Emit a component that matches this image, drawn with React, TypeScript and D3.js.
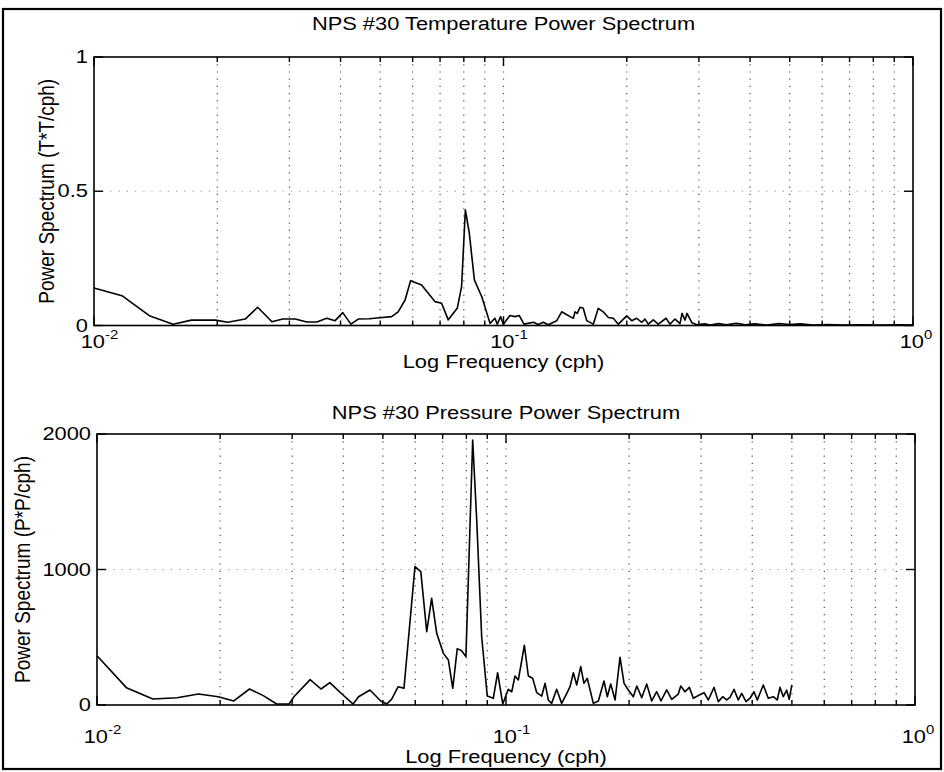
import React from 'react';
import * as d3 from 'd3';

// ---- Data ----
const tempFreq = [
  0.0100, 0.0117, 0.0137, 0.0156, 0.0173, 0.0198, 0.0212, 0.0234, 0.0251, 0.0272,
  0.0289, 0.0310, 0.0331, 0.0350, 0.0370, 0.0388, 0.0405, 0.0424, 0.0442, 0.0470,
  0.0499, 0.0533, 0.0553, 0.0575, 0.0593, 0.0631, 0.0655, 0.0680, 0.0706, 0.0733,
  0.0771, 0.0790, 0.0807, 0.0825, 0.0849, 0.0885, 0.0927, 0.0953, 0.0966, 0.0984,
  0.0999, 0.1037, 0.1067, 0.1093, 0.1122, 0.1183, 0.1216, 0.1251, 0.1286, 0.1349,
  0.1387, 0.1421, 0.1454, 0.1481, 0.1495, 0.1514, 0.1538, 0.1566, 0.1597, 0.1657,
  0.1704, 0.1752, 0.1803, 0.1854, 0.1907, 0.2000, 0.2056, 0.2115, 0.2175, 0.2216,
  0.2257, 0.2321, 0.2388, 0.2494, 0.2550, 0.2623, 0.2698, 0.2729, 0.2775, 0.2806,
  0.2886, 0.2968, 0.310, 0.320, 0.335, 0.350, 0.370, 0.390, 0.410, 0.440,
  0.470, 0.500, 0.530, 0.570, 0.620, 0.680, 0.750, 0.830, 0.920, 1.000,
];
const tempPower = [
  0.140, 0.111, 0.035, 0.005, 0.020, 0.020, 0.012, 0.024, 0.068, 0.014,
  0.024, 0.024, 0.013, 0.013, 0.027, 0.018, 0.048, 0.005, 0.024, 0.025,
  0.029, 0.033, 0.051, 0.095, 0.167, 0.151, 0.120, 0.089, 0.083, 0.021,
  0.064, 0.145, 0.431, 0.344, 0.170, 0.107, 0.008, 0.027, 0.005, 0.033,
  0.005, 0.037, 0.033, 0.037, 0.005, 0.012, 0.004, 0.012, 0.003, 0.018,
  0.051, 0.042, 0.033, 0.027, 0.051, 0.045, 0.068, 0.064, 0.018, 0.005,
  0.064, 0.051, 0.030, 0.027, 0.005, 0.036, 0.018, 0.027, 0.012, 0.024,
  0.005, 0.021, 0.005, 0.027, 0.005, 0.024, 0.007, 0.045, 0.020, 0.045,
  0.010, 0.003, 0.006, 0.002, 0.007, 0.003, 0.008, 0.003, 0.006, 0.002,
  0.007, 0.004, 0.006, 0.002, 0.004, 0.002, 0.003, 0.002, 0.003, 0.002,
];

const presFreq = [
  0.0100, 0.0118, 0.0137, 0.0157, 0.0177, 0.0198, 0.0216, 0.0236, 0.0255, 0.0275,
  0.0295, 0.0303, 0.0332, 0.0353, 0.0371, 0.0397, 0.0423, 0.0436, 0.0465, 0.0494,
  0.0511, 0.0525, 0.0545, 0.0563, 0.0599, 0.0619, 0.0640, 0.0658, 0.0677, 0.0703,
  0.0723, 0.0741, 0.0760, 0.0779, 0.0798, 0.0829, 0.0848, 0.0872, 0.0900, 0.0931,
  0.0954, 0.0982, 0.1013, 0.1033, 0.1052, 0.1072, 0.1109, 0.1134, 0.1162, 0.1189,
  0.1223, 0.1246, 0.1269, 0.1293, 0.1330, 0.1368, 0.1408, 0.1434, 0.1461, 0.1489,
  0.1523, 0.1551, 0.1580, 0.1635, 0.1682, 0.1736, 0.1769, 0.1803, 0.1848, 0.1900,
  0.1944, 0.1991, 0.2048, 0.2088, 0.2147, 0.2208, 0.2271, 0.2336, 0.2393, 0.2471,
  0.2542, 0.2638, 0.2674, 0.2740, 0.2807, 0.2871, 0.2970, 0.3049, 0.3124, 0.3226,
  0.3304, 0.3387, 0.3464, 0.3529, 0.3610, 0.3698, 0.3770, 0.3862, 0.3950, 0.4040,
  0.4116, 0.4257, 0.4378, 0.4503, 0.4605, 0.4676, 0.4764, 0.4856, 0.4925, 0.5000,
];
const presPower = [
  364, 128, 44, 54, 81, 61, 30, 118, 69, 7,
  7, 61, 187, 118, 165, 81, 7, 61, 111, 30,
  7, 42, 135, 123, 1021, 984, 541, 787, 529, 381,
  332, 123, 416, 401, 357, 1956, 1365, 504, 66, 49,
  238, 7, 116, 98, 214, 185, 441, 214, 197, 91,
  66, 160, 37, 12, 116, 12, 86, 135, 238, 148,
  283, 160, 197, 12, 30, 177, 61, 155, 37, 352,
  160, 111, 61, 140, 54, 155, 30, 98, 30, 111,
  42, 81, 140, 98, 130, 50, 74, 91, 37, 130,
  25, 61, 37, 57, 115, 37, 86, 25, 50, 98,
  37, 148, 50, 61, 37, 130, 61, 110, 42, 148,
];

const xTickExponents = [-2, -1, 0];
const tempYTicks = [0, 0.5, 1];
const tempYTickLabels = ['0', '0.5', '1'];
const presYTicks = [0, 1000, 2000];
const presYTickLabels = ['0', '1000', '2000'];

const FONT = '"Liberation Sans", Arial, Helvetica, sans-serif';
const FS = 19;
const STRETCH = 1.15;

function T(props: { x: number; y: number; anchor?: string; size?: number; children: React.ReactNode }) {
  const { x, y, anchor = 'start', size = FS, children } = props;
  return (
    <text transform={`translate(${x},${y}) scale(${STRETCH},1)`} fontFamily={FONT} fontSize={size}
      textAnchor={anchor as any} fill="#000">{children}</text>
  );
}

type PanelProps = {
  left: number; right: number; top: number; bottom: number;
  freq: number[]; power: number[];
  yMax: number; yTicks: number[]; yTickLabels: string[]; yGrid: number;
  title: string; titleY: number; ylabel: string; ylabelX: number;
  xTickLabelY: number; xlabelY: number;
};

function Panel(p: PanelProps) {
  const x = d3.scaleLog().domain([0.01, 1]).range([p.left, p.right]);
  const y = d3.scaleLinear().domain([0, p.yMax]).range([p.bottom, p.top]);
  const line = d3.line<number>()
    .x((_, i) => x(p.freq[i]))
    .y((d) => y(d));
  const minor: number[] = [];
  [0.01, 0.1].forEach((dec) => {
    for (let k = 2; k <= 9; k++) minor.push(dec * k);
  });
  const gridX = [...minor, 0.1];
  const cx = (p.left + p.right) / 2;
  const cy = (p.top + p.bottom) / 2;
  return (
    <g>
      {gridX.map((g, i) => (
        <line key={'gx' + i} x1={x(g)} x2={x(g)} y1={p.top} y2={p.bottom}
          stroke="#000" strokeWidth={1.2} strokeDasharray="1.2 6" opacity={0.7} />
      ))}
      <line x1={p.left} x2={p.right} y1={y(p.yGrid)} y2={y(p.yGrid)}
        stroke="#000" strokeWidth={1.2} strokeDasharray="1.2 7" opacity={0.4} />
      <path d={line(p.power) || ''} fill="none" stroke="#000" strokeWidth={1.6} strokeLinejoin="round" />
      <rect x={p.left} y={p.top} width={p.right - p.left} height={p.bottom - p.top}
        fill="none" stroke="#000" strokeWidth={1.6} />
      {minor.map((m, i) => (
        <g key={'mt' + i}>
          <line x1={x(m)} x2={x(m)} y1={p.bottom} y2={p.bottom - 5} stroke="#000" strokeWidth={1.4} />
          <line x1={x(m)} x2={x(m)} y1={p.top} y2={p.top + 5} stroke="#000" strokeWidth={1.4} />
        </g>
      ))}
      {xTickExponents.map((e) => {
        const xv = x(Math.pow(10, e));
        return (
          <g key={'xt' + e}>
            <line x1={xv} x2={xv} y1={p.bottom} y2={p.bottom - 9} stroke="#000" strokeWidth={1.4} />
            <line x1={xv} x2={xv} y1={p.top} y2={p.top + 9} stroke="#000" strokeWidth={1.4} />
            <T x={xv + 11} y={p.xTickLabelY} anchor="end">10</T>
            <T x={xv + 11} y={p.xTickLabelY - 9} size={13}>{String(e)}</T>
          </g>
        );
      })}
      {p.yTicks.map((t, i) => (
        <g key={'yt' + i}>
          <line x1={p.left} x2={p.left + 9} y1={y(t)} y2={y(t)} stroke="#000" strokeWidth={1.4} />
          <line x1={p.right} x2={p.right - 9} y1={y(t)} y2={y(t)} stroke="#000" strokeWidth={1.4} />
          <T x={p.left - 6} y={y(t) + 6} anchor="end">{p.yTickLabels[i]}</T>
        </g>
      ))}
      <T x={cx} y={p.titleY} anchor="middle">{p.title}</T>
      <T x={cx} y={p.xlabelY} anchor="middle">Log Frequency (cph)</T>
      <text transform={`translate(${p.ylabelX},${cy}) rotate(-90) scale(1,${STRETCH})`}
        fontFamily={FONT} fontSize={FS} textAnchor="middle" fill="#000">{p.ylabel}</text>
    </g>
  );
}

export default function App() {
  return (
    <svg width={944} height={772} style={{ position: 'absolute', left: 0, top: 0, background: '#fff' }}>
      <rect x={0} y={0} width={944} height={772} fill="#fff" />
      <rect x={3} y={9} width={938} height={760} fill="none" stroke="#000" strokeWidth={2.2} />
      <Panel left={94} right={913} top={57} bottom={325.5}
        freq={tempFreq} power={tempPower} yMax={1} yTicks={tempYTicks} yTickLabels={tempYTickLabels} yGrid={0.5}
        title="NPS #30 Temperature Power Spectrum" titleY={30}
        ylabel="Power Spectrum (T*T/cph)" ylabelX={54}
        xTickLabelY={348} xlabelY={368} />
      <Panel left={97} right={915} top={434} bottom={705}
        freq={presFreq} power={presPower} yMax={2000} yTicks={presYTicks} yTickLabels={presYTickLabels} yGrid={1000}
        title="NPS #30 Pressure Power Spectrum" titleY={419}
        ylabel="Power Spectrum (P*P/cph)" ylabelX={30}
        xTickLabelY={743} xlabelY={763} />
    </svg>
  );
}
